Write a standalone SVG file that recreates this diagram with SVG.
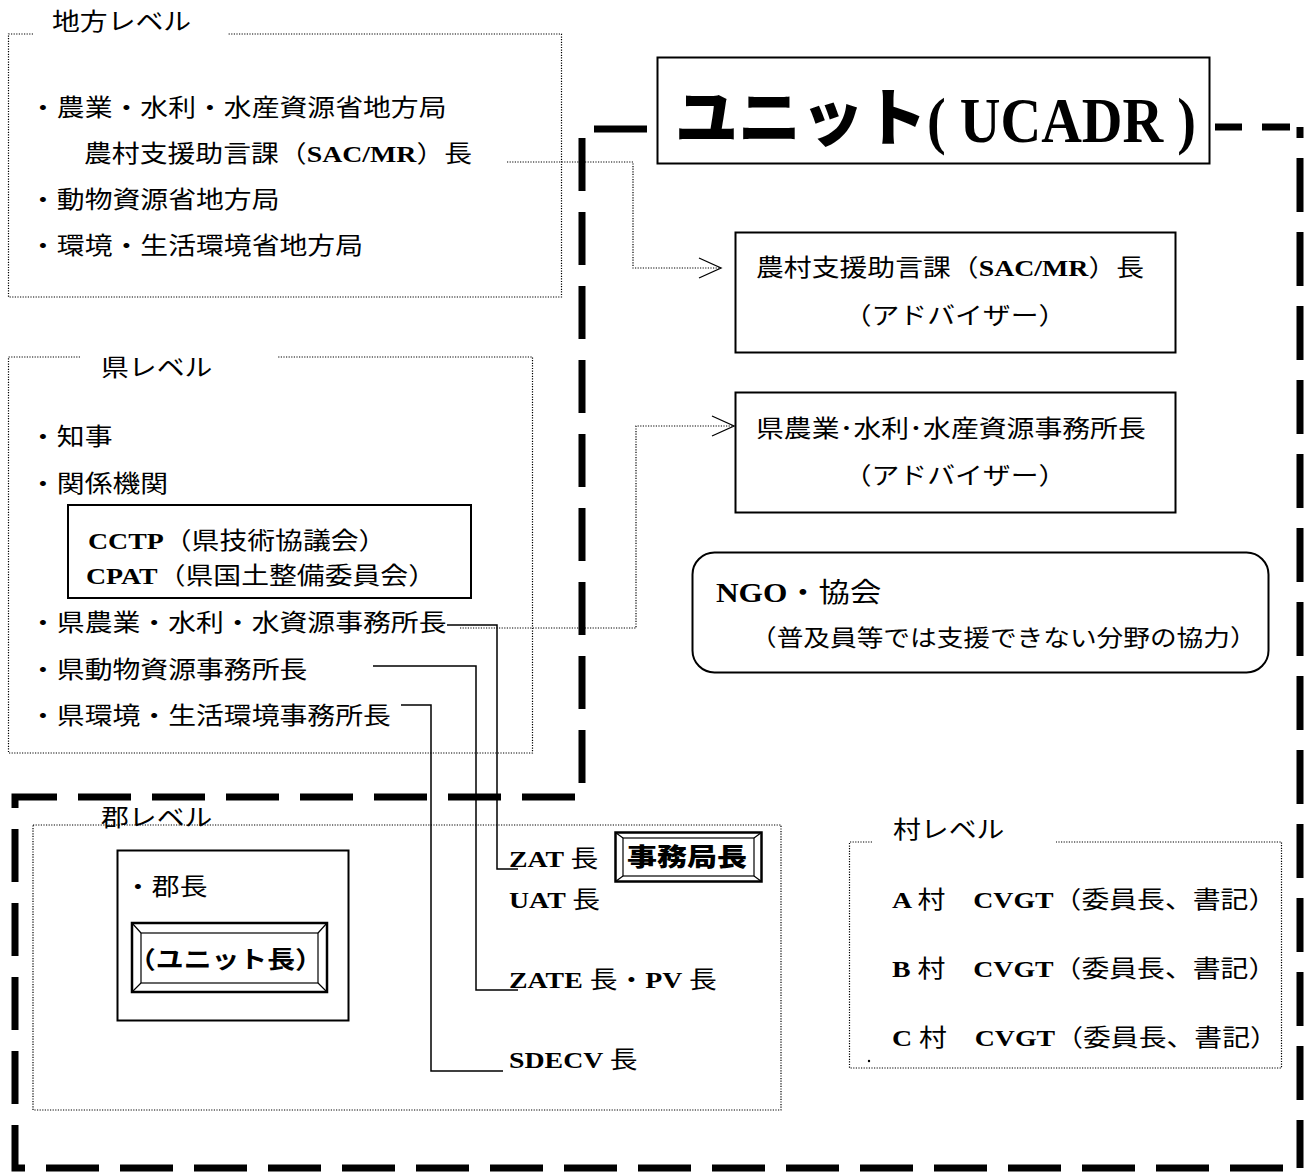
<svg xmlns="http://www.w3.org/2000/svg" width="1313" height="1172" viewBox="0 0 1313 1172">
<style>
.t{font-family:"Noto Sans CJK JP","Noto Sans CJK SC",sans-serif;font-size:24px;fill:#000}
.l{font-family:"Liberation Serif","Times New Roman",serif;font-weight:bold}
.dot{fill:none;stroke:#000;stroke-width:1.2;stroke-dasharray:1.2 1.4}
.box{fill:none;stroke:#000;stroke-width:2}
.thin{fill:none;stroke:#000;stroke-width:1.2}
.wire{fill:none;stroke:#000;stroke-width:1.5}
.thick{fill:none;stroke:#000;stroke-width:7}
</style>
<defs>
<marker id="open" markerUnits="userSpaceOnUse" markerWidth="26" markerHeight="24" refX="22" refY="11" orient="auto" overflow="visible">
<path d="M0,1 L22,11 L0,21" fill="none" stroke="#000" stroke-width="1.3" stroke-dasharray="none"/>
</marker>
</defs>
<rect width="1313" height="1172" fill="#fff"/>

<g id="unit-border">
<path class="thick" d="M647,129 H582 V797 H15 V1168 H1300" stroke-dasharray="53 21"/>
<path class="thick" d="M1300,127 V1168" stroke-dasharray="54 20" stroke-dashoffset="43"/>
<path class="thick" d="M1215,127 H1242 M1262,127 H1290"/>
</g>

<g id="regional-level">
<path class="dot" d="M33,34 H8.5 V297 H561.5 V34 H228"/>
<text class="t" transform="matrix(1.16 0 0 1 52 30)">地方レベル</text>
<text class="t" transform="matrix(1.16 0 0 1 29 116)">・農業・水利・水産資源省地方局</text>
<text class="t" transform="matrix(1.16 0 0 1 84 162)">農村支援助言課（<tspan class="l">SAC/MR</tspan>）長</text>
<text class="t" transform="matrix(1.16 0 0 1 29 208)">・動物資源省地方局</text>
<text class="t" transform="matrix(1.16 0 0 1 29 254)">・環境・生活環境省地方局</text>
</g>

<g id="unit-title">
<rect class="box" x="657.5" y="57.5" width="552" height="106"/>
<text class="t" style="font-size:63px;font-weight:900" x="675" y="140">ユニット</text>
<text class="t l" style="font-size:64px" transform="matrix(0.88 0 0 1 927 142)">( UCADR )</text>
</g>

<g id="sac-advisor">
<rect class="box" x="735.5" y="232.5" width="440" height="120"/>
<text class="t" transform="matrix(1.16 0 0 1 756 276)">農村支援助言課（<tspan class="l">SAC/MR</tspan>）長</text>
<text class="t" text-anchor="middle" transform="matrix(1.16 0 0 1 955 324)">（アドバイザー）</text>
</g>

<g id="province-advisor">
<rect class="box" x="735.5" y="392.5" width="440" height="120"/>
<text class="t" textLength="336" transform="matrix(1.16 0 0 1 756 437)">県農業･水利･水産資源事務所長</text>
<text class="t" text-anchor="middle" transform="matrix(1.16 0 0 1 955 484)">（アドバイザー）</text>
</g>

<g id="ngo">
<rect class="box" x="692.5" y="552.5" width="576" height="120" rx="22"/>
<text class="t" style="font-size:27px" transform="matrix(1.16 0 0 1 716 602)"><tspan class="l">NGO</tspan>・協会</text>
<text class="t" style="font-size:23px" transform="matrix(1.16 0 0 1 750 646)">（普及員等では支援できない分野の協力）</text>
</g>

<g id="province-level">
<path class="dot" d="M80,357 H8.5 V753 H532.5 V357 H277"/>
<text class="t" transform="matrix(1.16 0 0 1 101 376)">県レベル</text>
<text class="t" transform="matrix(1.16 0 0 1 29 445)">・知事</text>
<text class="t" transform="matrix(1.16 0 0 1 29 492)">・関係機関</text>
<rect class="box" x="68" y="505" width="403" height="93"/>
<text class="t" transform="matrix(1.16 0 0 1 88 549)"><tspan class="l">CCTP</tspan>（県技術協議会）</text>
<text class="t" transform="matrix(1.16 0 0 1 86 584)"><tspan class="l">CPAT</tspan>（県国土整備委員会）</text>
<text class="t" transform="matrix(1.16 0 0 1 29 631)">・県農業・水利・水資源事務所長</text>
<text class="t" transform="matrix(1.16 0 0 1 29 678)">・県動物資源事務所長</text>
<text class="t" transform="matrix(1.16 0 0 1 29 724)">・県環境・生活環境事務所長</text>
</g>

<g id="district-level">
<rect class="dot" x="33" y="825" width="748" height="285"/>
<text class="t" transform="matrix(1.16 0 0 1 101 826)">郡レベル</text>
<rect class="box" x="117.5" y="850.5" width="231" height="170"/>
<text class="t" transform="matrix(1.16 0 0 1 124 895)">・郡長</text>
<g id="unit-head">
<rect fill="none" stroke="#000" stroke-width="2.5" x="132" y="923" width="195" height="69"/>
<rect class="thin" x="141" y="933" width="177" height="50"/>
<path class="thin" d="M132,923 L141,933 M327,923 L318,933 M132,992 L141,983 M327,992 L318,983"/>
<text class="t" style="font-weight:bold" transform="matrix(1.16 0 0 1 128 968)">（ユニット長）</text>
</g>
<text class="t" transform="matrix(1.16 0 0 1 509 867)"><tspan class="l">ZAT </tspan>長</text>
<g id="secretariat">
<rect fill="none" stroke="#000" stroke-width="2.5" x="615.5" y="832.5" width="146" height="49"/>
<rect class="thin" x="623" y="838" width="131" height="38"/>
<path class="thin" d="M615.5,832.5 L623,838 M761.5,832.5 L754,838 M615.5,881.5 L623,876 M761.5,881.5 L754,876"/>
<text class="t" style="font-size:25px;font-weight:900" text-anchor="middle" transform="matrix(1.2 0 0 1 687 866)">事務局長</text>
</g>
<text class="t" transform="matrix(1.16 0 0 1 509 908)"><tspan class="l">UAT </tspan>長</text>
<text class="t" transform="matrix(1.16 0 0 1 509 988)"><tspan class="l">ZATE </tspan>長・<tspan class="l">PV </tspan>長</text>
<text class="t" transform="matrix(1.16 0 0 1 509 1068)"><tspan class="l">SDECV </tspan>長</text>
</g>

<g id="village-level">
<path class="dot" d="M872,842 H849.5 V1068 H1281.5 V842 H1056"/>
<text class="t" transform="matrix(1.16 0 0 1 893 838)">村レベル</text>
<text class="t" transform="matrix(1.16 0 0 1 892 908)"><tspan class="l">A </tspan>村　<tspan class="l">CVGT</tspan>（委員長、書記）</text>
<text class="t" transform="matrix(1.16 0 0 1 892 977)"><tspan class="l">B </tspan>村　<tspan class="l">CVGT</tspan>（委員長、書記）</text>
<text class="t" transform="matrix(1.16 0 0 1 892 1046)"><tspan class="l">C </tspan>村　<tspan class="l">CVGT</tspan>（委員長、書記）</text>
<circle cx="869" cy="1061" r="1.2" fill="#000"/>
</g>

<g id="connectors">
<path class="dot" d="M507,162 H633 V268 H721" marker-end="url(#open)"/>
<path class="dot" d="M460,628 H636 V426 H734" marker-end="url(#open)"/>
<path class="wire" d="M447,625 H497 V869 H518"/>
<path class="wire" d="M373,666 H476 V990 H518"/>
<path class="wire" d="M401,705 H431 V1071 H503"/>
</g>
</svg>
